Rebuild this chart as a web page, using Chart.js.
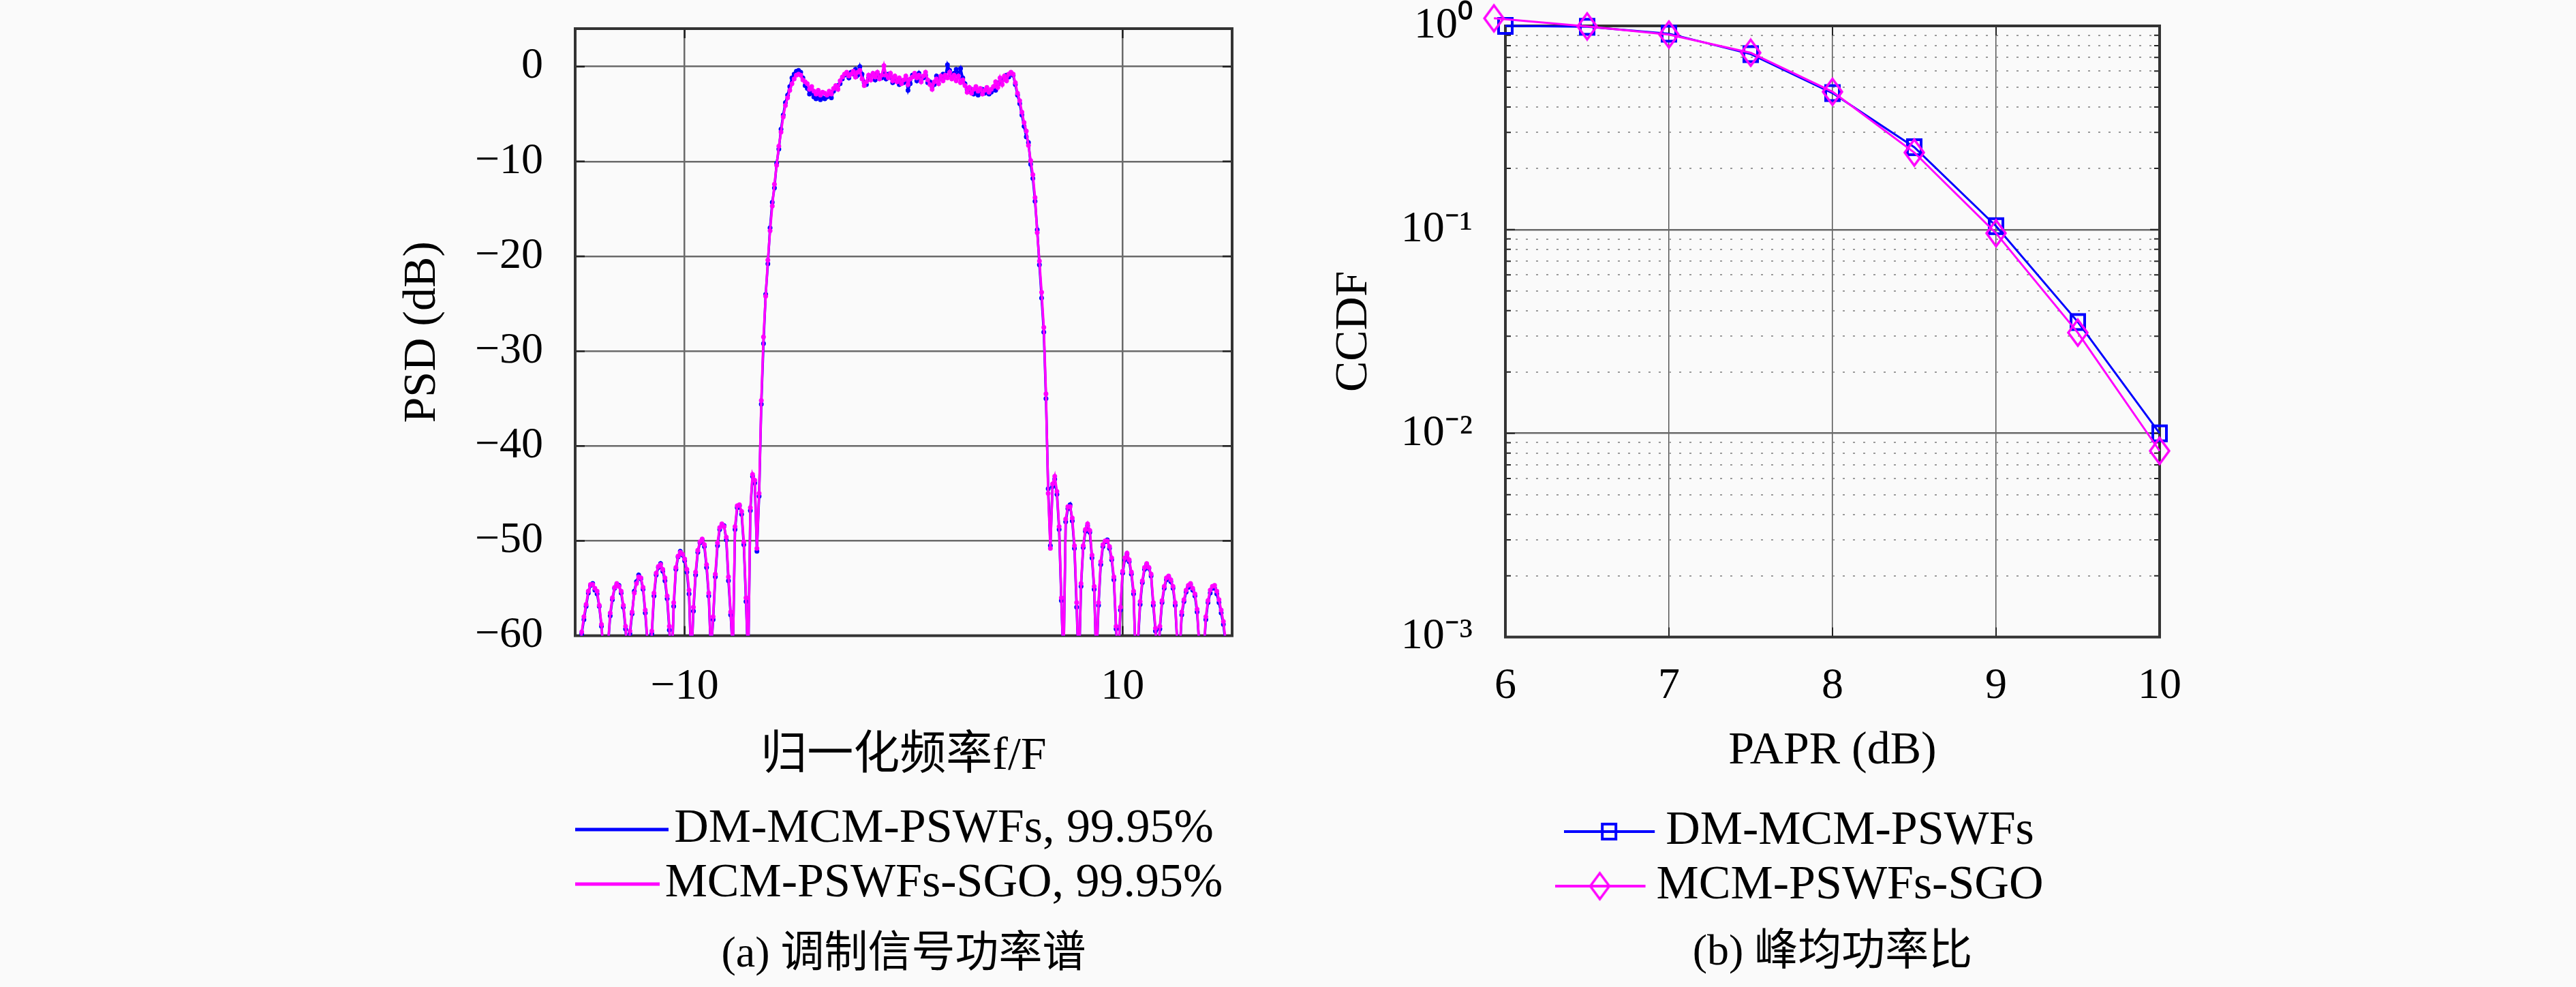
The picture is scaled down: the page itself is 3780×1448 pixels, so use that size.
<!DOCTYPE html>
<html>
<head>
<meta charset="utf-8">
<script src="https://cdn.jsdelivr.net/npm/chart.js@4.4.1/dist/chart.umd.min.js"></script>
<style>
  html, body { margin: 0; padding: 0; background: #fafafa; width: 3780px; height: 1448px; overflow: hidden; }
  .box { position: absolute; top: 0; height: 1448px; }
  #boxA { left: 578px; width: 1260px; }
  #boxB { left: 1945px; width: 1284px; }
</style>
</head>
<body>
<div class="box" id="boxA"><canvas id="psd" width="1260" height="1448"></canvas></div>
<div class="box" id="boxB"><canvas id="ccdf" width="1284" height="1448"></canvas></div>
<script>
// ---------------- data ----------------
const PSD_FREQ_START = -15;
const PSD_FREQ_STEP = 0.1;
const PSD_FREQ_COUNT = 301;
const PSD_FREQ = Array.from({ length: PSD_FREQ_COUNT }, (_, i) => Math.round((PSD_FREQ_START + i * PSD_FREQ_STEP) * 10) / 10);

// DM-MCM-PSWFs, 99.95%  (dB, f/F = -15.0 ... 15.0)
const PSD_DM = [
  -68, -64, -62, -59.8, -58.3, -56.9, -55.5, -54.7, -54.5, -55.2,
  -55.6, -56.9, -59.0, -62, -66, -61, -57.9, -56.2, -55.0, -54.6,
  -54.7, -55.5, -57.0, -59.3, -63, -59.8, -57.7, -55.3, -54.3, -53.6,
  -54.0, -55.1, -57.6, -60.8, -66, -59.8, -55.8, -53.6, -52.8, -52.4,
  -53.2, -54.2, -56.1, -59.4, -64, -56.9, -53.0, -51.7, -51.1, -51.5,
  -52.1, -53.3, -55.6, -63, -57.4, -53.6, -51.2, -50.2, -49.9, -50.6,
  -52.8, -55.8, -62, -58.3, -53.8, -50.5, -48.8, -48.3, -48.4, -49.9,
  -54.2, -57.8, -62, -48.8, -46.5, -46.3, -47.2, -50.4, -56.4, -63,
  -46.8, -43.2, -43.9, -51.1, -45.3, -35.6, -29.2, -24.0, -20.8, -17.0,
  -14.3, -12.8, -10.2, -8.7, -6.6, -5.1, -3.8, -3.0, -2.1, -1.2,
  -0.8, -0.5, -0.4, -0.6, -1.2, -2.0, -2.3, -2.9, -2.7, -3.2,
  -3.4, -3.1, -3.5, -3.3, -3.4, -3.2, -3.0, -3.3, -2.6, -2.2,
  -2.0, -1.8, -1.3, -0.9, -0.7, -1.2, -0.6, -0.8, -0.3, -0.9,
  0.0, -0.8, -1.7, -1.9, -1.2, -1.0, -0.9, -1.4, -0.8, -1.1,
  -1.2, -0.6, -1.3, -0.8, -1.1, -1.7, -1.3, -1.4, -1.9, -1.5,
  -1.7, -1.3, -2.5, -1.8, -0.9, -1.0, -1.5, -0.7, -1.3, -1.2,
  -0.9, -1.7, -1.6, -2.1, -1.9, -1.0, -1.4, -1.2, -0.8, -1.1,
  0.2, -0.4, -1.0, -0.7, -0.3, -0.8, -0.2, -1.2, -1.8, -2.4,
  -2.6, -2.4, -2.9, -2.5, -3.0, -2.7, -2.4, -2.8, -2.6, -2.9,
  -2.7, -2.3, -2.5, -1.9, -1.6, -1.4, -1.2, -0.9, -1.1, -0.7,
  -0.9, -1.9, -3.0, -3.9, -5.1, -6.3, -7.4, -8.0, -10.3, -11.8,
  -14.2, -17.2, -20.9, -24.4, -28.0, -35.0, -44.5, -50.5, -44.3, -43.5,
  -45.1, -48.8, -56.3, -63, -48.0, -46.6, -46.2, -47.9, -50.8, -57.0,
  -64, -54.8, -50.7, -49.0, -48.4, -49.1, -51.8, -55.1, -63, -56.8,
  -52.5, -50.6, -50.1, -49.9, -50.8, -52.0, -54.1, -59.3, -63, -57.3,
  -53.4, -52.0, -51.4, -52.2, -53.5, -55.6, -63, -60.8, -56.7, -54.4,
  -53.0, -52.5, -52.9, -53.7, -56.8, -59.5, -64, -59.3, -56.5, -55.0,
  -54.1, -53.8, -54.3, -55.0, -56.8, -61, -62, -57.8, -56.4, -55.4,
  -54.9, -54.6, -55.2, -55.8, -57.5, -61, -66, -62, -58.3, -56.5,
  -55.5, -55.0, -55.0, -55.6, -56.5, -57.6, -58.8, -60.8, -64, -67,
  -68
];

// MCM-PSWFs-SGO, 99.95%  (dB, f/F = -15.0 ... 15.0)
const PSD_SGO = [
  -68, -64, -62, -59.6, -58.0, -56.7, -55.3, -54.6, -54.6, -55.0,
  -55.3, -56.8, -58.8, -62, -66, -61, -57.6, -56.0, -54.9, -54.5,
  -54.8, -55.3, -56.8, -59.0, -63, -59.5, -57.5, -55.5, -54.5, -53.8,
  -53.9, -54.9, -57.3, -60.5, -66, -59.5, -55.5, -53.4, -52.7, -52.5,
  -53.0, -53.9, -55.8, -59.0, -64, -56.5, -52.8, -51.6, -51.2, -51.4,
  -51.9, -53.0, -55.2, -63, -57.0, -53.3, -51.0, -50.1, -49.8, -50.4,
  -52.5, -55.5, -62, -58.0, -53.5, -50.2, -48.6, -48.2, -48.5, -49.6,
  -53.8, -57.5, -62, -48.5, -46.3, -46.2, -46.9, -50.1, -56, -63,
  -46.5, -43.0, -43.6, -50.8, -45.0, -35.2, -28.5, -24.2, -20.4, -17.3,
  -14.7, -12.4, -10.4, -8.4, -6.9, -5.3, -4.1, -3.3, -2.5, -1.8,
  -1.3, -0.9, -0.8, -0.9, -1.4, -1.6, -1.8, -2.4, -2.1, -2.6,
  -2.9, -2.5, -3.0, -2.7, -2.8, -3.0, -2.6, -2.9, -2.3, -2.0,
  -2.4, -1.5, -1.1, -0.8, -0.6, -1.0, -0.8, -0.5, -1.1, -0.6,
  -0.4, -1.3, -2.0, -1.6, -0.9, -1.4, -0.7, -1.1, -0.6, -1.3,
  -0.9, 0.1, -0.9, -1.2, -0.7, -1.5, -1.0, -1.6, -1.2, -1.8,
  -1.4, -1.0, -1.9, -1.3, -1.1, -0.7, -1.2, -0.9, -1.6, -1.0,
  -0.6, -1.4, -1.9, -2.4, -1.6, -1.3, -1.8, -1.0, -1.5, -0.9,
  -1.2, -0.6, -1.3, -0.9, -1.5, -1.0, -1.7, -1.4, -2.0, -2.7,
  -2.2, -2.8, -2.4, -2.1, -2.6, -2.3, -2.9, -2.5, -2.2, -2.7,
  -2.4, -2.1, -1.6, -2.2, -1.2, -1.9, -1.0, -1.5, -0.8, -0.6,
  -0.8, -1.7, -2.8, -3.6, -4.8, -5.9, -6.8, -8.3, -9.9, -11.4,
  -13.8, -17.5, -20.5, -23.8, -27.5, -34.5, -45.0, -50.8, -44.0, -43.2,
  -44.8, -48.5, -56, -63, -47.7, -46.4, -46.4, -47.6, -50.5, -56.5,
  -64, -54.5, -50.5, -48.8, -48.2, -48.9, -51.5, -54.8, -63, -56.5,
  -52.2, -50.4, -50.0, -50.0, -50.6, -51.8, -53.8, -59.0, -63, -57.0,
  -53.2, -51.8, -51.3, -52.0, -53.3, -55.3, -63, -60.5, -56.4, -54.2,
  -52.8, -52.4, -52.8, -53.5, -56.5, -59.2, -64, -59.0, -56.3, -54.8,
  -53.9, -53.7, -54.1, -54.8, -56.5, -61, -62, -57.5, -56.2, -55.2,
  -54.7, -54.5, -55.0, -55.6, -57.2, -61, -66, -62, -58.0, -56.3,
  -55.2, -54.8, -54.7, -55.3, -56.2, -57.3, -58.5, -60.5, -64, -67,
  -68
];

const PSD_X_TICKS = [-10, 10];
const PSD_X_TICK_LABELS = ['\u221210', '10'];
const PSD_Y_TICKS = [-60, -50, -40, -30, -20, -10, 0];
const PSD_Y_TICK_LABELS = ['\u221260', '\u221250', '\u221240', '\u221230', '\u221220', '\u221210', '0'];
const PSD_LEGEND = ['DM-MCM-PSWFs, 99.95%', 'MCM-PSWFs-SGO, 99.95%'];

const PAPR_DM = [6, 6.5, 7, 7.5, 8, 8.5, 9, 9.5, 10];
const CCDF_DM = [1.0, 0.99, 0.916, 0.727, 0.468, 0.254, 0.104, 0.0352, 0.0100];
const PAPR_SGO = [5.93, 6.5, 7, 7.5, 8, 8.5, 9, 9.5, 10];
const CCDF_SGO = [1.09, 0.995, 0.907, 0.738, 0.475, 0.239, 0.096, 0.0312, 0.0082];
const PAPR_TICKS = [6, 7, 8, 9, 10];
const CCDF_DECADES = [1e-3, 1e-2, 1e-1, 1];
const CCDF_TICK_LABELS = ['10\u207B\u00B3', '10\u207B\u00B2', '10\u207B\u00B9', '10\u2070'];
const CCDF_MINOR_MULT = [1, 2, 3, 4, 5, 6, 7, 8, 9];
const CCDF_LEGEND = ['DM-MCM-PSWFs', 'MCM-PSWFs-SGO'];

// ---------------- styles ----------------
const SERIF = "'Liberation Serif', 'Noto Sans CJK SC', serif";
const COLOR_DM = '#0000ff';
const COLOR_SGO = '#ff00ff';
Chart.defaults.font.family = SERIF;
Chart.defaults.color = '#000';

function makeCanvas(w, h, draw) {
  const c = document.createElement('canvas');
  c.width = w; c.height = h;
  draw(c.getContext('2d'), w, h);
  return c;
}
function drawSquare(g, cx, cy) {
  g.strokeStyle = COLOR_DM; g.lineWidth = 4;
  g.strokeRect(cx - 10, cy - 11, 20, 22);
}
function drawDiamond(g, cx, cy) {
  g.strokeStyle = COLOR_SGO; g.lineWidth = 3.5;
  g.beginPath();
  g.moveTo(cx, cy - 19); g.lineTo(cx + 14, cy); g.lineTo(cx, cy + 19); g.lineTo(cx - 14, cy);
  g.closePath(); g.stroke();
}
const MARK_SQUARE = makeCanvas(28, 30, (g, w, h) => drawSquare(g, w / 2, h / 2));
const MARK_DIAMOND = makeCanvas(34, 44, (g, w, h) => drawDiamond(g, w / 2, h / 2));
function legendLine(color, width) {
  return makeCanvas(137, 12, (g, w, h) => { g.strokeStyle = color; g.lineWidth = width; g.beginPath(); g.moveTo(0, h / 2); g.lineTo(w, h / 2); g.stroke(); });
}
const LEG_PSD = [legendLine(COLOR_DM, 5), legendLine(COLOR_SGO, 5)];
// symbol drawn in the left 133 px of a 212 px wide image (right part transparent)
const LEG_CCDF = [
  makeCanvas(212, 46, (g, w, h) => { g.strokeStyle = COLOR_DM; g.lineWidth = 4; g.beginPath(); g.moveTo(0, h / 2); g.lineTo(133, h / 2); g.stroke(); drawSquare(g, 66, h / 2); }),
  makeCanvas(212, 46, (g, w, h) => { g.strokeStyle = COLOR_SGO; g.lineWidth = 4; g.beginPath(); g.moveTo(0, h / 2); g.lineTo(133, h / 2); g.stroke(); drawDiamond(g, 66, h / 2); })
];

function framePlugin(o) {
  return {
    id: 'frame',
    beforeDatasetsDraw(chart) {
      const { ctx, chartArea: a } = chart;
      const xs = chart.scales.x, ys = chart.scales.y;
      ctx.save();
      ctx.strokeStyle = o.tickColor; ctx.lineWidth = o.tickWidth;
      ctx.beginPath();
      xs.ticks.forEach(t => {
        const p = xs.getPixelForValue(t.value);
        ctx.moveTo(p, a.bottom); ctx.lineTo(p, a.bottom - o.xLen);
        ctx.moveTo(p, a.top); ctx.lineTo(p, a.top + o.xLen);
      });
      ys.ticks.forEach(t => {
        const L = o.yLen(t.value);
        const p = ys.getPixelForValue(t.value);
        ctx.moveTo(a.left, p); ctx.lineTo(a.left + L, p);
        ctx.moveTo(a.right, p); ctx.lineTo(a.right - L, p);
      });
      ctx.stroke();
      ctx.lineWidth = o.frameWidth; ctx.strokeStyle = o.frameColor;
      ctx.strokeRect(a.left, a.top, a.right - a.left, a.bottom - a.top);
      ctx.restore();
    }
  };
}

const tickFont = { family: SERIF, size: 64, lineHeight: 1.2 };
const tickFontY = { family: SERIF, size: 64, lineHeight: 1.0 };
const titleFont = { family: SERIF, size: 68, lineHeight: 1.2 };
const legendFont = { family: SERIF, size: 70, lineHeight: 1.2 };
const captionFont = { family: SERIF, size: 64, weight: 'normal', lineHeight: 1.2 };

// ---------------- (a) PSD ----------------
new Chart(document.getElementById('psd'), {
  type: 'line',
  data: {
    datasets: [
      {
        label: PSD_LEGEND[0],
        data: PSD_FREQ.map((f, i) => ({ x: f, y: PSD_DM[i] })),
        borderColor: COLOR_DM, backgroundColor: COLOR_DM, pointBackgroundColor: COLOR_DM,
        borderWidth: 3.5, pointRadius: 3.5, pointBorderWidth: 0, tension: 0, order: 1
      },
      {
        label: PSD_LEGEND[1],
        data: PSD_FREQ.map((f, i) => ({ x: f, y: PSD_SGO[i] })),
        borderColor: COLOR_SGO, backgroundColor: COLOR_SGO, pointBackgroundColor: COLOR_SGO,
        borderWidth: 3.5, pointRadius: 3.5, pointBorderWidth: 0, tension: 0, order: 0
      }
    ]
  },
  options: {
    responsive: false, animation: false, devicePixelRatio: 1,
    layout: { padding: { top: 42, right: 30, bottom: 8.6, left: 0 } },
    scales: {
      x: {
        type: 'linear', min: -15, max: 15,
        afterBuildTicks: s => { s.ticks = PSD_X_TICKS.map(v => ({ value: v })); },
        ticks: { callback: (v, i) => PSD_X_TICK_LABELS[i], padding: 0, font: tickFont, maxRotation: 0, autoSkip: false },
        grid: { color: '#6a6a6a', lineWidth: 2.5, drawTicks: true, tickLength: 37, tickColor: 'rgba(0,0,0,0)' },
        border: { display: false },
        title: { display: true, text: '归一化频率f/F', font: titleFont, padding: { top: 22.6, bottom: 21.4 } }
      },
      y: {
        type: 'linear', min: -60, max: 4,
        afterBuildTicks: s => { s.ticks = PSD_Y_TICKS.map(v => ({ value: v })); },
        afterFit: s => { s.width = 266; },
        ticks: { callback: (v, i) => PSD_Y_TICK_LABELS[i], padding: 0, font: tickFontY, autoSkip: false },
        grid: { color: '#6a6a6a', lineWidth: 2.5, drawTicks: true, tickLength: 47, tickColor: 'rgba(0,0,0,0)' },
        border: { display: false },
        title: { display: true, text: 'PSD (dB)', font: titleFont, padding: { top: 1, bottom: 0 } }
      }
    },
    plugins: {
      tooltip: { enabled: false },
      legend: {
        position: 'bottom', fullSize: false,
        labels: {
          usePointStyle: true, pointStyleWidth: 83, padding: 10, font: legendFont, color: '#000',
          generateLabels: chart => chart.data.datasets.map((ds, i) => ({
            text: ds.label, pointStyle: LEG_PSD[i], fillStyle: ds.borderColor, strokeStyle: ds.borderColor,
            lineWidth: 0, hidden: false, datasetIndex: i, fontColor: '#000'
          }))
        }
      },
      title: { display: true, position: 'bottom', fullSize: false, text: '(a) 调制信号功率谱', font: captionFont, color: '#000', padding: { top: 20.6, bottom: 0 } }
    }
  },
  plugins: [framePlugin({ tickColor: '#222', tickWidth: 2.5, xLen: 14, yLen: () => 14, frameWidth: 4, frameColor: '#333' })]
});

// ---------------- (b) CCDF ----------------
const isDecade = v => { const e = Math.log10(v); return Math.abs(e - Math.round(e)) < 1e-6; };
new Chart(document.getElementById('ccdf'), {
  type: 'line',
  data: {
    datasets: [
      {
        label: CCDF_LEGEND[0],
        data: PAPR_DM.map((p, i) => ({ x: p, y: CCDF_DM[i] })),
        borderColor: COLOR_DM, backgroundColor: COLOR_DM, borderWidth: 3,
        pointStyle: MARK_SQUARE, pointRadius: 20, tension: 0, clip: false, order: 1
      },
      {
        label: CCDF_LEGEND[1],
        data: PAPR_SGO.map((p, i) => ({ x: p, y: CCDF_SGO[i] })),
        borderColor: COLOR_SGO, backgroundColor: COLOR_SGO, borderWidth: 3,
        pointStyle: MARK_DIAMOND, pointRadius: 22, tension: 0, clip: false, order: 0
      }
    ]
  },
  options: {
    responsive: false, animation: false, devicePixelRatio: 1,
    layout: { padding: { top: 38, right: 60, bottom: 11.6, left: 0 } },
    scales: {
      x: {
        type: 'linear', min: 6, max: 10,
        afterBuildTicks: s => { s.ticks = PAPR_TICKS.map(v => ({ value: v })); },
        ticks: { callback: v => String(v), padding: 0, font: tickFont, maxRotation: 0, autoSkip: false },
        grid: { color: '#555', lineWidth: 1.5, drawTicks: true, tickLength: 34.6, tickColor: 'rgba(0,0,0,0)' },
        border: { display: false },
        title: { display: true, text: 'PAPR (dB)', font: titleFont, padding: { top: 15, bottom: 32.4 } }
      },
      y: {
        type: 'logarithmic', min: 1e-3, max: 1,
        afterBuildTicks: s => {
          const t = [];
          CCDF_DECADES.forEach((d, k) => {
            if (k < CCDF_DECADES.length - 1) CCDF_MINOR_MULT.forEach(m => t.push(d * m));
            else t.push(d);
          });
          s.ticks = t.map(v => ({ value: v }));
        },
        afterFit: s => { s.width = 264; },
        ticks: {
          autoSkip: false, padding: 0, font: tickFontY,
          callback: v => { const k = CCDF_DECADES.findIndex(d => Math.abs(d - v) / d < 1e-6); return k >= 0 ? CCDF_TICK_LABELS[k] : ''; }
        },
        grid: {
          color: c => (c.tick && !isDecade(c.tick.value)) ? '#9a9a9a' : '#6a6a6a',
          lineWidth: c => (c.tick && !isDecade(c.tick.value)) ? 2 : 2.5,
          drawTicks: true, tickLength: 48, tickColor: 'rgba(0,0,0,0)'
        },
        border: { display: false, dash: c => (c.tick && !isDecade(c.tick.value)) ? [3, 12] : [] },
        title: { display: true, text: 'CCDF', font: titleFont, padding: { top: 1.2, bottom: 0 } }
      }
    },
    plugins: {
      tooltip: { enabled: false },
      legend: {
        position: 'bottom', fullSize: false,
        labels: {
          usePointStyle: true, pointStyleWidth: 16, padding: 10, font: legendFont, color: '#000',
          generateLabels: chart => chart.data.datasets.map((ds, i) => ({
            text: ds.label, pointStyle: LEG_CCDF[i], fillStyle: ds.borderColor, strokeStyle: ds.borderColor,
            lineWidth: 0, hidden: false, datasetIndex: i, fontColor: '#000'
          }))
        }
      },
      title: { display: true, position: 'bottom', fullSize: false, text: '(b) 峰均功率比', font: captionFont, color: '#000', padding: { top: 14.6, bottom: 0 } }
    }
  },
  plugins: [framePlugin({ tickColor: '#222', tickWidth: 2, xLen: 14, yLen: v => isDecade(v) ? 14 : 8, frameWidth: 4, frameColor: '#333' })]
});
</script>
</body>
</html>
